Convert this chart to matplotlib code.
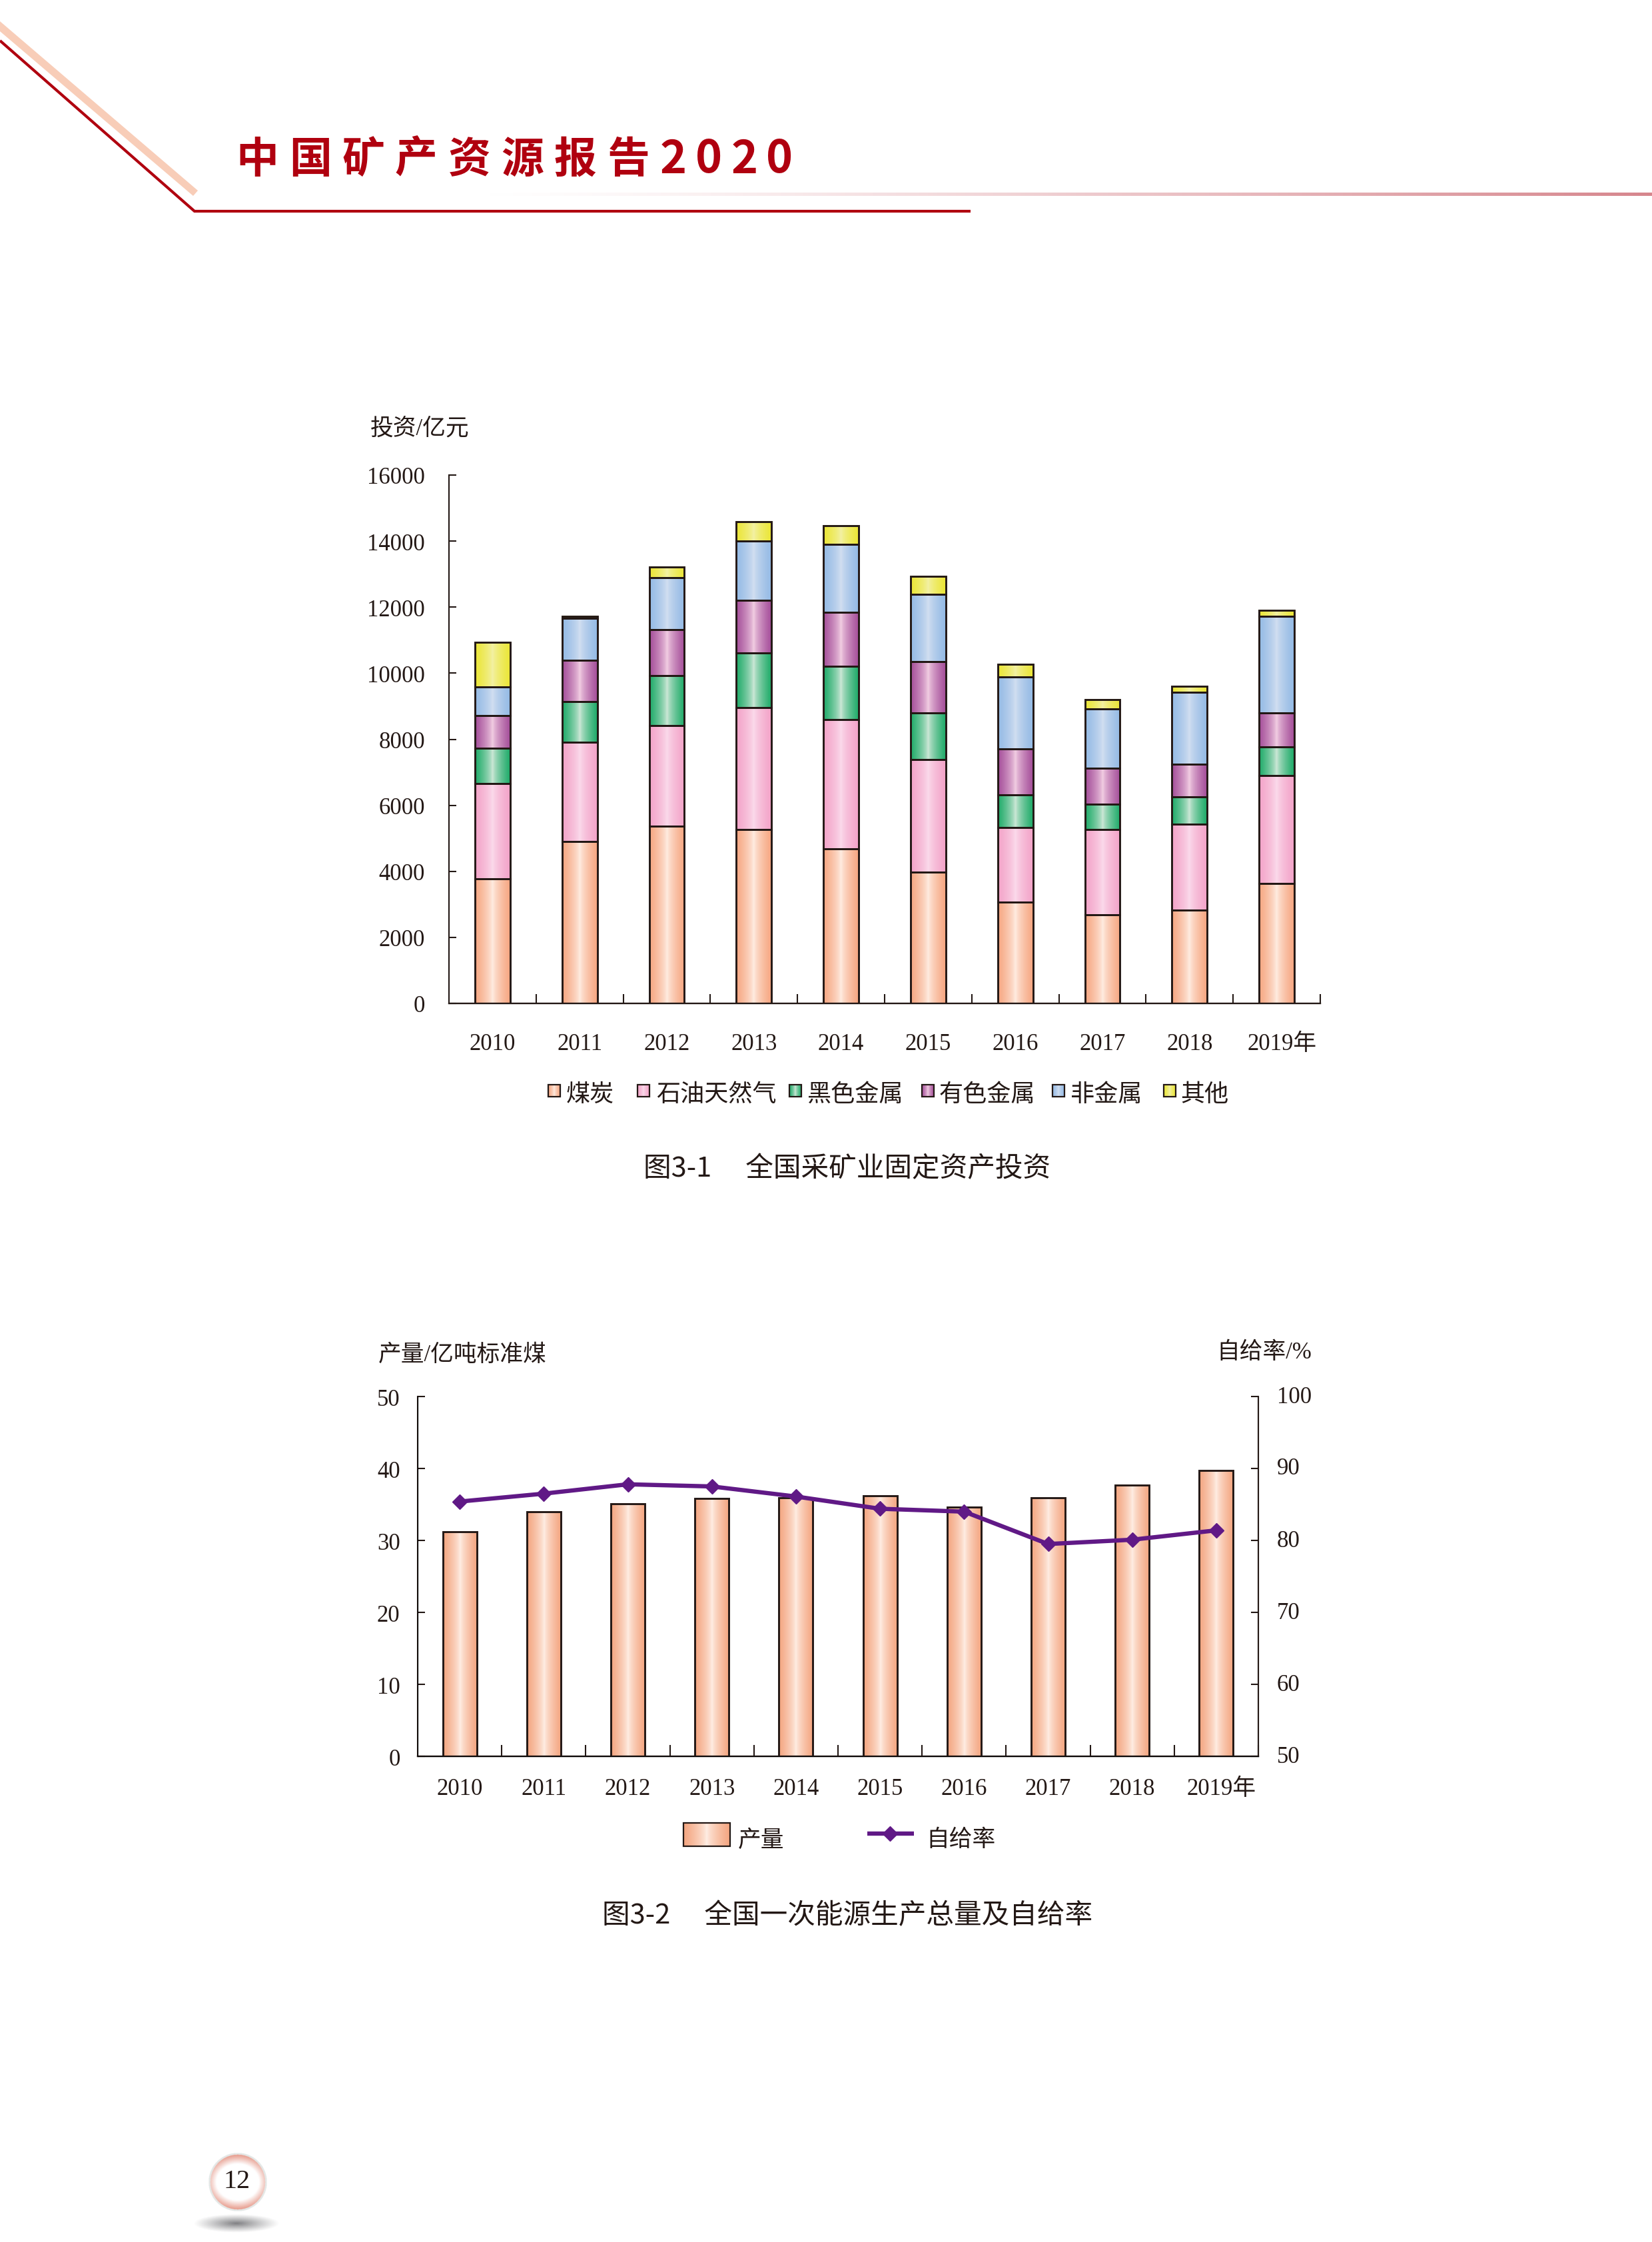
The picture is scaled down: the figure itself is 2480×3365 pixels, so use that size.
"""Page with the mining investment and primary energy charts (figures 3-1 and 3-2)."""
import matplotlib
matplotlib.use("Agg")
import matplotlib.pyplot as plt
import numpy as np
from matplotlib.colors import to_rgb
from matplotlib.patches import Polygon, Rectangle
from matplotlib.transforms import ScaledTranslation

W, H = 2480, 3366
DPI = 100
INK = "#231815"
RED = "#b0000f"
PURPLE = "#601986"
SERIF = ["Liberation Serif", "Noto Sans CJK SC"]
SANS = ["Noto Sans CJK SC", "DejaVu Sans"]

YEARS = ["2010", "2011", "2012", "2013", "2014", "2015", "2016", "2017", "2018", "2019年"]

TOP_COAL = [3778, 4909, 5367, 5261, 4685, 3980, 3061, 2680, 2826, 3638]
TOP_OIL = [6660, 7919, 8423, 8964, 8587, 7394, 5320, 5271, 5418, 6905]
TOP_FERROUS = [7720, 9144, 9928, 10604, 10210, 8802, 6308, 6024, 6249, 7765]
TOP_NONFERROUS = [8721, 10387, 11324, 12216, 11844, 10357, 7716, 7130, 7237, 8792]
TOP_NONMETAL = [9586, 11658, 12901, 14000, 13907, 12391, 9878, 8910, 9418, 11716]
TOP_OTHER = [10937, 11730, 13225, 14595, 14474, 12939, 10269, 9203, 9594, 11912]
SERIES_NAMES = ["煤炭", "石油天然气", "黑色金属", "有色金属", "非金属", "其他"]

OUTPUT = [31.2, 34.0, 35.1, 35.8, 35.9, 36.2, 34.6, 35.9, 37.7, 39.7]
SELF_RATE = [85.4, 86.5, 87.8, 87.5, 86.1, 84.4, 84.0, 79.5, 80.1, 81.4]

# (edge of the bar, middle of the bar)
STACK_COLORS = [
    ("#f6a681", "#ffeee4"),
    ("#f3a3c8", "#fbdcec"),
    ("#1fab69", "#d2e9da"),
    ("#a54f9a", "#f4d2e5"),
    ("#94bae5", "#d4e0f1"),
    ("#ebe636", "#f3f1a8"),
]
OUTPUT_COLORS = ("#f4a580", "#fff0e7")

plt.rcParams["font.family"] = SERIF
plt.rcParams["text.color"] = INK


def gradient(edge, centre, n=64):
    t = np.abs(np.linspace(-1, 1, n))[None, :, None] ** 0.7
    return t * np.array(to_rgb(edge)) + (1 - t) * np.array(to_rgb(centre))


def gradient_bars(ax, x, heights, bottoms, width, colors):
    bars = ax.bar(x, heights, width, bottom=bottoms, facecolor="none",
                  edgecolor=INK, linewidth=2.1, zorder=3)
    for bar in bars:
        ax.imshow(gradient(*colors), aspect="auto", interpolation="bilinear", zorder=2,
                  extent=(bar.get_x(), bar.get_x() + bar.get_width(),
                          bar.get_y(), bar.get_y() + bar.get_height()))


def axes_px(fig, left, top, right, bottom):
    return fig.add_axes([left / W, 1 - bottom / H, (right - left) / W, (bottom - top) / H])


def style_x(ax, label_pad):
    ax.set_xlim(0, 10)
    ax.set_xticks(np.arange(1, 11))
    ax.set_xticklabels([])
    ax.tick_params(axis="x", which="major", direction="in", length=10, width=1.5, color=INK)
    ax.set_xticks(np.arange(10) + 0.5, YEARS, minor=True)
    ax.tick_params(axis="x", which="minor", length=0, pad=label_pad, labelsize=25, colors=INK)
    # the year sign hangs off to the right of the last label
    last = ax.get_xticklabels(minor=True)[-1]
    last.set_transform(last.get_transform() + ScaledTranslation(0.08, 0, ax.figure.dpi_scale_trans))
    ax.patch.set_visible(False)
    ax.spines["top"].set_visible(False)
    ax.spines["left"].set_linewidth(1.5)
    ax.spines["bottom"].set_linewidth(1.7)
    for s in ax.spines.values():
        s.set_color(INK)


def page_gradient(page, x0, y0, x1, y1, colors, edge=True):
    page.imshow(gradient(*colors), aspect="auto", interpolation="bilinear",
                extent=(x0, x1, y1, y0), zorder=2)
    if edge:
        page.add_patch(Rectangle((x0, y0), x1 - x0, y1 - y0, fill=False, edgecolor=INK,
                                 linewidth=1.6, zorder=3))


def draw_header(page):
    page.add_patch(Polygon([(0, 33), (297, 287), (290, 295), (0, 48)], closed=True,
                           facecolor="#f8cdb8", edgecolor="none"))
    page.plot([0, 292, 1457], [62, 318, 318], color=RED, linewidth=3.0,
              solid_joinstyle="miter", solid_capstyle="butt")
    fade = np.ones((1, 256, 4))
    fade[..., :3] = to_rgb("#d6858c")
    fade[..., 3] = np.linspace(0, 1, 256) ** 1.3
    page.imshow(fade, aspect="auto", extent=(708, W, 295, 290), zorder=1)
    for i, ch in enumerate("中国矿产资源报告"):
        page.text(386 + i * 79.6, 240, ch, family=SANS, fontsize=46, weight="black",
                  color=RED, ha="center", va="center")
    for x, ch in zip((1011, 1064, 1118, 1170), "2020"):
        page.text(x, 240, ch, family=SANS, fontsize=49, weight="bold",
                  color=RED, ha="center", va="center")


def draw_page_number(page):
    n = 200
    yy, xx = np.mgrid[-1:1:n * 1j, -1:1:n * 1j]
    r = np.hypot(xx, yy)
    shadow = np.ones((n, n, 4))
    shadow[..., :3] = to_rgb("#808083")
    shadow[..., 3] = np.clip(1 - r, 0, 1) ** 1.1
    page.imshow(shadow, aspect="auto", extent=(290, 420, 3352, 3324), zorder=1)

    ball = np.ones((n, n, 4))
    # the wash is heavier at top and bottom than at the sides
    t = np.clip((np.hypot(0.85 * xx, yy) - 0.62) / 0.3, 0, 1)[..., None] * 0.85
    ball[..., :3] = (1 - t) * np.array([1.0, 1.0, 1.0]) + t * np.array(to_rgb("#e48f7e"))
    ball[r > 0.94, :3] = to_rgb("#e4e8e7")
    ball[..., 3] = (r <= 1).astype(float)
    page.imshow(ball, aspect="auto", interpolation="bilinear",
                extent=(313, 401, 3320, 3232), zorder=2)
    page.text(356, 3275, "12", fontsize=29, ha="center", va="center", zorder=3)


def draw_investment(fig, page):
    ax = axes_px(fig, 674, 714, 1982, 1507)
    tops = np.array([TOP_COAL, TOP_OIL, TOP_FERROUS, TOP_NONFERROUS, TOP_NONMETAL, TOP_OTHER], dtype=float)
    x = np.arange(len(YEARS)) + 0.5
    bottoms = np.zeros(len(YEARS))
    for row, colors in zip(tops, STACK_COLORS):
        gradient_bars(ax, x, row - bottoms, bottoms, 0.405, colors)
        bottoms = row
    style_x(ax, 32)
    ax.spines["right"].set_visible(False)
    ax.set_ylim(0, 16000)
    ax.set_yticks(np.arange(0, 16001, 2000))
    ax.tick_params(axis="y", direction="in", length=8, width=1.5, pad=26, labelsize=25, colors=INK)

    page.text(556, 644, "投资/亿元", fontsize=25, va="center", family=SERIF)
    # swatch x positions with the text start beside them
    swatch_x = [823, 957, 1185, 1384, 1580, 1747]
    text_x = [850, 985, 1211, 1410, 1607, 1772]
    for sx, tx, name, colors in zip(swatch_x, text_x, SERIES_NAMES, STACK_COLORS):
        page_gradient(page, sx, 1629, sx + 18, 1647, colors)
        page.text(tx, 1643, name, fontsize=26, va="center", family=SANS, weight="light")
    page.text(966, 1755, "图3-1\u3000 全国采矿业固定资产投资", fontsize=30, va="center",
              family=SANS, weight="medium")


def draw_energy(fig, page):
    ax = axes_px(fig, 627, 2097, 1889, 2637)
    x = np.arange(len(YEARS)) + 0.5
    gradient_bars(ax, x, OUTPUT, 0, 0.405, OUTPUT_COLORS)
    style_x(ax, 23)
    ax.set_ylim(0, 50)
    ax.set_yticks(np.arange(0, 51, 10))
    ax.tick_params(axis="x", which="major", length=12)
    ax.tick_params(axis="y", direction="in", length=8, width=1.5, pad=19, labelsize=25, colors=INK)

    rate = ax.twinx()
    rate.plot(x, SELF_RATE, color=PURPLE, linewidth=4.6, marker="D", markersize=11.5, zorder=5)
    rate.set_ylim(50, 100)
    rate.set_yticks(np.arange(50, 101, 10))
    rate.tick_params(axis="y", direction="in", length=8, width=1.5, pad=20, labelsize=25, colors=INK)
    # right labels sit a little above their ticks
    for label in rate.get_yticklabels():
        label.set_transform(label.get_transform() + ScaledTranslation(0, 0.04, fig.dpi_scale_trans))
    rate.patch.set_visible(False)
    rate.spines["top"].set_visible(False)
    rate.spines["right"].set_linewidth(1.5)
    rate.spines["right"].set_color(INK)

    page.text(568, 2034, "产量/亿吨标准煤", fontsize=25, va="center", family=SERIF)
    page.text(1969, 2031, "自给率/%", fontsize=25, va="center", ha="right", family=SERIF)
    page_gradient(page, 1026, 2737, 1096, 2772, OUTPUT_COLORS)
    page.text(1108, 2762, "产量", fontsize=25, va="center", family=SANS, weight="light")
    page.plot([1302, 1372], [2753, 2753], color=PURPLE, linewidth=4.6, solid_capstyle="butt")
    page.plot([1336], [2753], color=PURPLE, marker="D", markersize=11.5)
    page.text(1390, 2762, "自给率", fontsize=25, va="center", family=SANS, weight="light")
    page.text(904, 2876, "图3-2\u3000 全国一次能源生产总量及自给率", fontsize=30, va="center",
              family=SANS, weight="medium")


def main():
    fig = plt.figure(figsize=(W / DPI, H / DPI), dpi=DPI, facecolor="white")
    page = fig.add_axes([0, 0, 1, 1])
    page.axis("off")

    draw_header(page)
    draw_page_number(page)
    draw_investment(fig, page)
    draw_energy(fig, page)

    page.set_xlim(0, W)
    page.set_ylim(H, 0)
    fig.savefig("out.png", dpi=DPI)


if __name__ == "__main__":
    main()
